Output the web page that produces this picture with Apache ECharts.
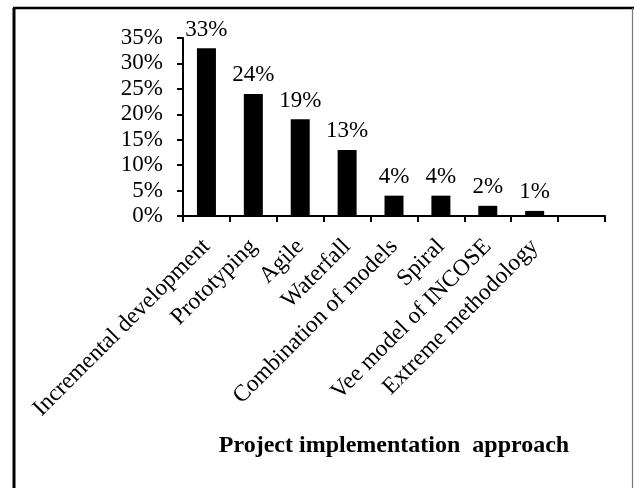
<!DOCTYPE html>
<html>
<head>
<meta charset="utf-8">
<script src="https://cdn.jsdelivr.net/npm/echarts@6/dist/echarts.min.js"></script>
<style>
  html, body { margin: 0; padding: 0; background: #fff; }
  #chart { width: 634px; height: 488px; }
</style>
</head>
<body>
<div id="chart"></div>
<script>
// Share of projects by implementation approach (percent)
const categories = [
  'Incremental development',
  'Prototyping',
  'Agile',
  'Waterfall',
  'Combination of models',
  'Spiral',
  'Vee model of INCOSE',
  'Extreme methodology',
  ''
];
const shares = [33, 24, 19, 13, 4, 4, 2, 1, null];
const yTicks = [0, 5, 10, 15, 20, 25, 30, 35];
const axisTitle = 'Project implementation  approach';

const serif = '"Liberation Serif", "Times New Roman", serif';

const chart = echarts.init(document.getElementById('chart'), null, { renderer: 'canvas' });

chart.setOption({
  backgroundColor: '#ffffff',
  animation: false,
  grid: { left: 183, right: 29, top: 38, bottom: 272, containLabel: false },
  xAxis: {
    type: 'category',
    data: categories,
    boundaryGap: true,
    axisLine: { lineStyle: { color: '#000', width: 2 } },
    axisTick: { show: true, alignWithLabel: false, length: 6, lineStyle: { color: '#000', width: 2 } },
    axisLabel: {
      interval: 0,
      rotate: 45,
      margin: 27,
      color: '#000',
      fontFamily: serif,
      fontSize: 23.5
    },
    name: axisTitle,
    nameLocation: 'middle',
    nameGap: 218,
    nameTextStyle: { color: '#000', fontFamily: serif, fontSize: 24, fontWeight: 'bold' }
  },
  yAxis: {
    type: 'value',
    min: yTicks[0],
    max: yTicks[yTicks.length - 1],
    interval: yTicks[1] - yTicks[0],
    splitLine: { show: false },
    axisLine: { show: true, lineStyle: { color: '#000', width: 2 } },
    axisTick: { show: true, length: 6, lineStyle: { color: '#000', width: 2 } },
    axisLabel: {
      margin: 20,
      color: '#000',
      fontFamily: serif,
      fontSize: 23,
      formatter: v => v + '%'
    }
  },
  series: [{
    type: 'bar',
    data: shares,
    barWidth: 19,
    itemStyle: { color: '#000' },
    label: {
      show: true,
      position: 'top',
      distance: 7,
      color: '#000',
      fontFamily: serif,
      fontSize: 23,
      formatter: p => p.value + '%'
    }
  }],
  graphic: [
    { type: 'line', shape: { x1: 14, y1: 8, x2: 14, y2: 488 }, style: { stroke: '#000', lineWidth: 3 } },
    { type: 'line', shape: { x1: 13, y1: 8, x2: 634, y2: 8 }, style: { stroke: '#000', lineWidth: 2.5 } },
    { type: 'line', shape: { x1: 632.5, y1: 8, x2: 632.5, y2: 488 }, style: { stroke: '#777', lineWidth: 1.2 } }
  ]
});
</script>
</body>
</html>
